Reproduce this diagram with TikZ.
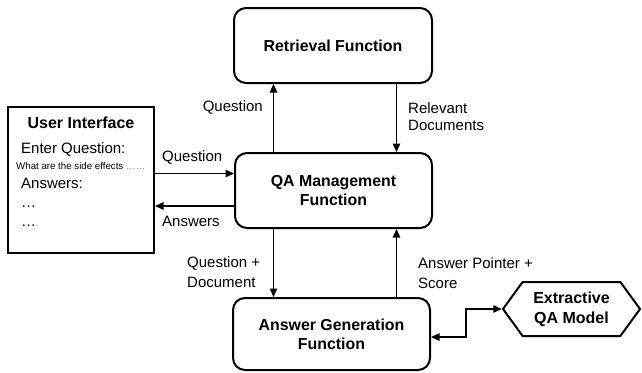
\documentclass[tikz,border=0pt]{standalone}
\usepackage{fontspec}
\setmainfont{Liberation Sans}
\usetikzlibrary{arrows.meta,shapes.symbols}
\begin{document}
\begin{tikzpicture}[x=1pt,y=-1pt,
  fbox/.style={draw,line width=2pt,rounded corners=12pt,align=center,
    font=\fontsize{15.9}{19}\selectfont\bfseries,inner sep=0pt},
  arr/.style={line width=1.3pt,-{Triangle[length=8.5pt,width=7.5pt]}},
  darr/.style={line width=1.3pt,{Triangle[length=8.5pt,width=7.5pt]}-{Triangle[length=8.5pt,width=7.5pt]}},
  lbl/.style={font=\fontsize{15}{18}\selectfont,inner sep=0pt,align=left},
  uitxt/.style={font=\fontsize{15}{18}\selectfont,inner sep=0pt,anchor=base west}]
\useasboundingbox (0,0) rectangle (642,372);
% boxes
\node[fbox,minimum width=198pt,minimum height=75pt] (RF) at (333,45.5) {Retrieval Function};
\node[fbox,minimum width=197pt,minimum height=75pt] (QA) at (333.5,190.5) {QA Management\\Function};
\node[fbox,minimum width=197pt,minimum height=72pt] (AG) at (331.5,334) {Answer Generation\\Function};
\node[draw,line width=2pt,minimum width=146pt,minimum height=146pt,inner sep=0pt] (UI) at (81,180) {};
\node[draw,line width=2pt,signal,signal to=west and east,signal pointer angle=108,
  minimum width=137pt,minimum height=54pt,inner sep=0pt,align=center,
  font=\fontsize{16}{20}\selectfont\bfseries] (HX) at (571.5,309) {Extractive\\QA Model};
% UI text
\node[font=\fontsize{16}{18}\selectfont\bfseries,inner sep=0pt] (uit) at (81,123) {User Interface};
\node[uitxt] (ui1) at (21,153) {Enter Question:};
\node[uitxt,font=\fontsize{9.7}{11}\selectfont] (ui2) at (16,169.5) {What are the side effects \textcolor{gray}{……}};
\node[uitxt] (ui3) at (21,188.5) {Answers:};
\node[uitxt] (ui4) at (21,207) {…};
\node[uitxt] (ui5) at (21,226) {…};
% helper coordinates
\coordinate (xl) at (273.5,0);
\coordinate (xr) at (396.5,0);
\coordinate (yq) at (0,173.5);
\coordinate (ya) at (0,206);
\coordinate (yb) at (0,337);
\coordinate (xm) at (466,0);
% connectors
\draw[arr] (QA.north -| xl) -- (RF.south -| xl);
\draw[arr] (RF.south -| xr) -- (QA.north -| xr);
\draw[arr] (QA.south -| xl) -- (AG.north -| xl);
\draw[arr] (AG.north -| xr) -- (QA.south -| xr);
\draw[arr] (UI.east |- yq) -- (QA.west |- yq);
\draw[arr] (QA.west |- ya) -- (UI.east |- ya);
\draw[darr] (AG.east |- yb) -- (xm |- yb) -- (xm |- HX.west) -- (HX.west);
% labels
\node[lbl,anchor=east] (l1) at (263,107) {Question};
\node[lbl,anchor=west,font=\fontsize{15}{17}\selectfont] (l2) at (408,116.5) {Relevant\\Documents};
\node[lbl,anchor=west] (l3) at (162,157) {Question};
\node[lbl,anchor=west] (l4) at (162,221) {Answers};
\node[lbl,anchor=west,font=\fontsize{15}{20}\selectfont] (l5) at (187,272) {Question +\\Document};
\node[lbl,anchor=west,font=\fontsize{15}{20}\selectfont] (l6) at (418,273) {Answer Pointer +\\Score};
\end{tikzpicture}
\end{document}
